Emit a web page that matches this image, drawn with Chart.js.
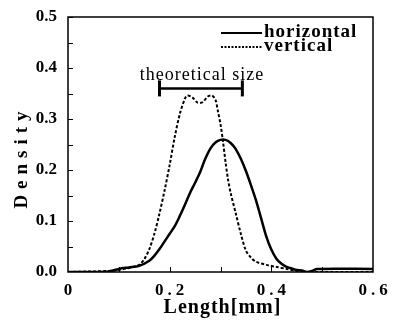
<!DOCTYPE html>
<html>
<head>
<meta charset="utf-8">
<script src="https://cdn.jsdelivr.net/npm/chart.js@4.4.1/dist/chart.umd.min.js"></script>
<style>
  html, body { margin: 0; padding: 0; background: #fff; }
  #wrap { width: 393px; height: 325px; }
</style>
</head>
<body>
<div id="wrap"><canvas id="c"></canvas></div>
<script>
// data
const lengthH = [0.00, 0.05, 0.08, 0.10, 0.12, 0.14, 0.16, 0.17, 0.18, 0.19, 0.20, 0.21, 0.22, 0.23, 0.24, 0.25, 0.26, 0.27, 0.28, 0.29, 0.30, 0.31, 0.32, 0.33, 0.34, 0.35, 0.36, 0.37, 0.38, 0.39, 0.40, 0.41, 0.42, 0.43, 0.44, 0.45, 0.46, 0.47, 0.48, 0.49, 0.60];
const densityH = [0.000, 0.000, 0.001, 0.006, 0.009, 0.012, 0.022, 0.032, 0.045, 0.060, 0.075, 0.090, 0.110, 0.132, 0.155, 0.175, 0.196, 0.222, 0.242, 0.254, 0.259, 0.259, 0.253, 0.241, 0.222, 0.198, 0.170, 0.140, 0.105, 0.070, 0.044, 0.026, 0.016, 0.010, 0.007, 0.004, 0.003, 0.000, 0.002, 0.006, 0.006];

const lengthV = [0.00, 0.08, 0.10, 0.12, 0.14, 0.15, 0.16, 0.17, 0.18, 0.19, 0.20, 0.21, 0.22, 0.23, 0.235, 0.245, 0.255, 0.265, 0.275, 0.283, 0.29, 0.295, 0.30, 0.305, 0.31, 0.315, 0.32, 0.33, 0.34, 0.35, 0.36, 0.37, 0.39, 0.41, 0.43, 0.45, 0.47, 0.60];
const densityV = [0.000, 0.002, 0.004, 0.008, 0.014, 0.025, 0.045, 0.075, 0.115, 0.160, 0.210, 0.265, 0.310, 0.340, 0.346, 0.342, 0.332, 0.333, 0.344, 0.346, 0.338, 0.315, 0.290, 0.255, 0.215, 0.180, 0.155, 0.115, 0.075, 0.042, 0.028, 0.020, 0.014, 0.010, 0.006, 0.002, 0.000, 0.000];

const theoryRange = [0.18, 0.343];
const theoryLevel = 0.36;

const seriesNames = ["horizontal", "vertical"];
const xTicks = [0, 0.2, 0.4, 0.6];
const yTicks = [0.0, 0.1, 0.2, 0.3, 0.4, 0.5];

const serif = "'Liberation Serif', 'DejaVu Serif', serif";

function pts(xs, ys) {
  return xs.map((x, i) => ({ x: x, y: ys[i] }));
}

// box, inward ticks, x labels, legend, annotation text, axis titles
const decor = {
  id: "decor",
  afterDraw(chart) {
    const ctx = chart.ctx;
    const a = chart.chartArea;
    const xs = chart.scales.x, ys = chart.scales.y;
    ctx.save();
    ctx.strokeStyle = "#000";
    ctx.fillStyle = "#000";
    ctx.lineWidth = 1.5;
    ctx.strokeRect(a.left, a.top, a.right - a.left, a.bottom - a.top);

    ctx.lineWidth = 1;
    for (let v = 0.1; v < 0.6; v += 0.1) {
      const px = Math.round(xs.getPixelForValue(v)) + 0.5;
      ctx.beginPath(); ctx.moveTo(px, a.bottom); ctx.lineTo(px, a.bottom - 5); ctx.stroke();
    }
    for (let v = 0.05; v < 0.5; v += 0.05) {
      const py = Math.round(ys.getPixelForValue(v)) + 0.5;
      ctx.beginPath(); ctx.moveTo(a.left, py); ctx.lineTo(a.left + 5, py); ctx.stroke();
    }

    // x tick labels, spaced like the original
    ctx.font = "bold 17px " + serif;
    ctx.textAlign = "center";
    ctx.textBaseline = "top";
    ctx.letterSpacing = "4px";
    xTicks.forEach(v => {
      const s = v === 0 ? "0" : v.toFixed(1);
      ctx.fillText(s, xs.getPixelForValue(v) + 2, a.bottom + 10);
    });
    ctx.letterSpacing = "0px";

    // legend
    const lx0 = a.left + 153, lx1 = a.left + 194;
    ctx.font = "bold 19px " + serif;
    ctx.textBaseline = "middle";
    ctx.textAlign = "left";
    ctx.letterSpacing = "1px";
    ctx.lineWidth = 2;
    let ly = a.top + 16;
    ctx.beginPath(); ctx.moveTo(lx0, ly); ctx.lineTo(lx1, ly); ctx.stroke();
    ctx.fillText(seriesNames[0], lx1 + 2, ly - 1);
    ly = a.top + 30;
    ctx.setLineDash([2, 1.5]);
    ctx.beginPath(); ctx.moveTo(lx0, ly); ctx.lineTo(lx1, ly); ctx.stroke();
    ctx.setLineDash([]);
    ctx.fillText(seriesNames[1], lx1 + 2, ly - 1);

    // annotation text
    ctx.font = "18px " + serif;
    ctx.letterSpacing = "1px";
    ctx.textAlign = "center";
    ctx.textBaseline = "alphabetic";
    const mid = xs.getPixelForValue((theoryRange[0] + theoryRange[1]) / 2);
    ctx.fillText("theoretical size", mid + 1, ys.getPixelForValue(theoryLevel) - 8);

    // axis titles
    ctx.font = "bold 20px " + serif;
    ctx.letterSpacing = "1px";
    ctx.fillText("Length[mm]", (a.left + a.right) / 2 + 2, 313);
    ctx.translate(27, 160);
    ctx.rotate(-Math.PI / 2);
    ctx.font = "bold 19px " + serif;
    ctx.letterSpacing = "6px";
    ctx.fillText("Density", 3, 0);
    ctx.restore();
  }
};

new Chart(document.getElementById("c"), {
  type: "line",
  data: {
    datasets: [
      {
        label: seriesNames[0],
        data: pts(lengthH, densityH),
        borderColor: "#000",
        borderWidth: 2.5,
        pointRadius: 0,
        tension: 0.3,
        fill: false
      },
      {
        label: seriesNames[1],
        data: pts(lengthV, densityV),
        borderColor: "#000",
        borderWidth: 2,
        borderDash: [3, 2],
        pointRadius: 0,
        tension: 0.3,
        fill: false
      },
      {
        label: "theoretical size",
        data: pts(theoryRange, [theoryLevel, theoryLevel]),
        borderColor: "#000",
        borderWidth: 2.5,
        pointStyle: "line",
        pointRotation: 90,
        pointRadius: 8,
        pointBorderWidth: 3,
        pointBorderColor: "#000",
        fill: false
      }
    ]
  },
  options: {
    responsive: true,
    maintainAspectRatio: false,
    animation: false,
    layout: { padding: { left: 0, right: 20, top: 17, bottom: 0 } },
    plugins: {
      legend: { display: false },
      tooltip: { enabled: false }
    },
    scales: {
      x: {
        type: "linear",
        min: 0, max: 0.6,
        afterBuildTicks(s) { s.ticks = xTicks.map(v => ({ value: v })); },
        afterFit(s) { s.height = 53; },
        grid: { display: false },
        border: { display: false },
        ticks: { display: false }
      },
      y: {
        type: "linear",
        min: 0, max: 0.5,
        afterBuildTicks(s) { s.ticks = yTicks.map(v => ({ value: v })); },
        afterFit(s) { s.width = 68; },
        grid: { display: false },
        border: { display: false },
        ticks: {
          padding: 3,
          color: "#000",
          font: { family: serif, size: 17, weight: "bold" },
          callback: v => v.toFixed(1)
        }
      }
    }
  },
  plugins: [decor]
});
</script>
</body>
</html>
